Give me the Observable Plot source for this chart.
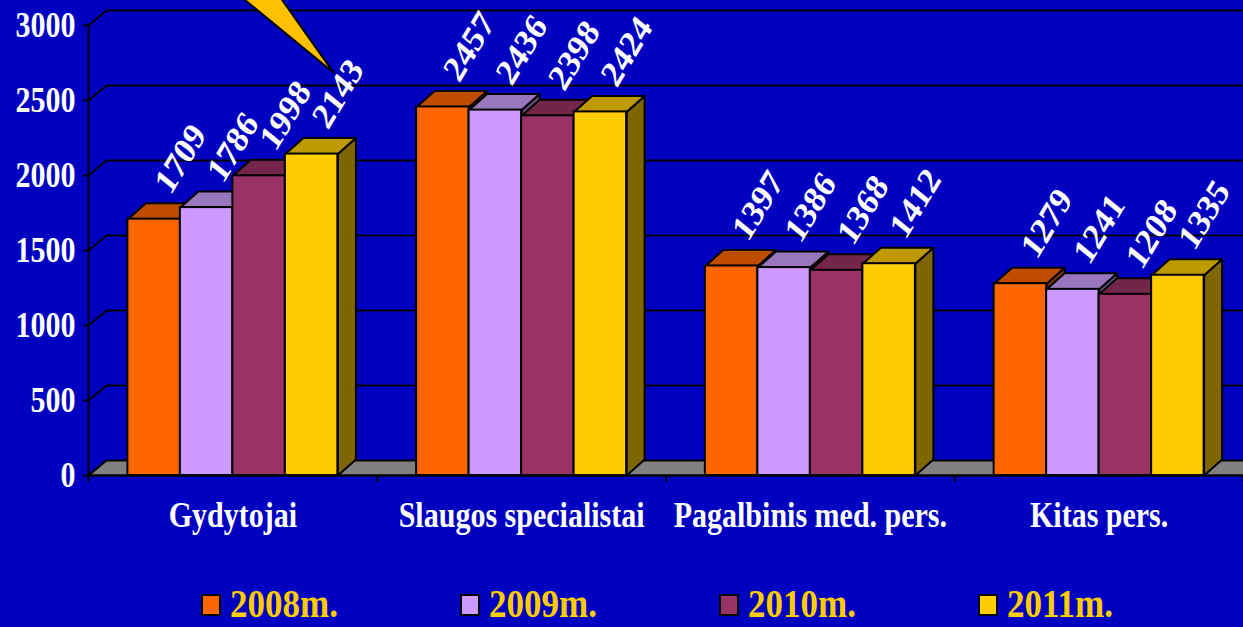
<!DOCTYPE html>
<html>
<head>
<meta charset="utf-8">
<script src="https://cdn.jsdelivr.net/npm/d3@7"></script>
<script src="https://cdn.jsdelivr.net/npm/@observablehq/plot@0.6"></script>
<style>
  html, body { margin:0; padding:0; background:#0000C0; overflow:hidden; width:1243px; height:627px; }
  #chart svg { display:block; overflow:hidden; }
  #legend { position:relative; width:1243px; height:47px; font-family:'Liberation Serif','Times New Roman',serif; }
  .item { position:absolute; top:6px; height:37px; display:flex; align-items:center; }
  .sw { width:16px; height:18px; border:2px solid #000; box-sizing:content-box; margin-right:9px; }
  .lt { color:#FFCC00; font-weight:bold; font-size:35px; line-height:30px; display:inline-block; transform:scaleY(1.12); transform-origin:50% 50%; }
</style>
</head>
<body>
<div id="chart"></div>
<div id="legend"></div>
<script>
// ---- data ----
const categories = ["Gydytojai", "Slaugos specialistai", "Pagalbinis med. pers.", "Kitas pers."];
const years = ["2008m.", "2009m.", "2010m.", "2011m."];
const v2008 = [1709, 2457, 1397, 1279];
const v2009 = [1786, 2436, 1386, 1241];
const v2010 = [1998, 2398, 1368, 1208];
const v2011 = [2143, 2424, 1412, 1335];
const yTicks = [0, 500, 1000, 1500, 2000, 2500, 3000];
const frontColors = ["#FF6600", "#CC99FF", "#993366", "#FFCC00"];
const topColors   = ["#C04C00", "#9977BF", "#732649", "#BF9900"];
const sideColors  = ["#803300", "#664C80", "#4C1A33", "#806600"];
// callout pointer (annotation, in data units)
const calloutPointer = [{x:0.5229, y:3200}, {x:0.6597, y:3200}, {x:0.848, y:2687}];

// ---- geometry helpers ----
const W = 1243, H = 580;
const mL = 88, mR = 0, mT = 25, mB = 105;
const pxPerCat = (W - mL - mR) / 4;
const pxPerVal = (H - mT - mB) / 3000;
const dXw = 18 / pxPerCat, dVw = 15 / pxPerVal;   // wall depth
const dXb = 18 / pxPerCat, dVb = 16 / pxPerVal;   // bar depth
const barW = 52.5 / pxPerCat;
const gap = (1 - 4 * barW) / 2;

const series = [v2008, v2009, v2010, v2011];
const bars = [];
categories.forEach((c, i) => {
  series.forEach((s, j) => {
    const x1 = i + gap + j * barW;
    bars.push({cat: c, year: years[j], j, value: s[i], x1, x2: x1 + barW, id: c + "|" + j});
  });
});
const tops = bars.flatMap(b => [
  {id:b.id, j:b.j, x:b.x1, y:b.value},
  {id:b.id, j:b.j, x:b.x2, y:b.value},
  {id:b.id, j:b.j, x:b.x2 + dXb, y:b.value + dVb},
  {id:b.id, j:b.j, x:b.x1 + dXb, y:b.value + dVb}
]);
const sides = bars.flatMap(b => [
  {id:b.id, j:b.j, x:b.x2, y:0},
  {id:b.id, j:b.j, x:b.x2, y:b.value},
  {id:b.id, j:b.j, x:b.x2 + dXb, y:b.value + dVb},
  {id:b.id, j:b.j, x:b.x2 + dXb, y:dVb}
]);
const floorPts = [{x:0,y:0},{x:4.3,y:0},{x:4.3 + dXw,y:dVw},{x:dXw,y:dVw}];

const font = "'Liberation Serif','Times New Roman',serif";
const polyMarks = (pts, colors) => years.map((_, j) =>
  Plot.line(pts.filter(p => p.j === j), {x:"x", y:"y", z:"id", curve:"linear-closed",
    fill: colors[j], stroke:"black", strokeWidth:2, strokeLinejoin:"round"}));

const chart = Plot.plot({
  width: W, height: H,
  marginLeft: mL, marginRight: mR, marginTop: mT, marginBottom: mB,
  x: {domain: [0, 4], axis: null},
  y: {domain: [0, 3000], axis: null},
  style: {background: "transparent", color: "white", fontFamily: font},
  marks: [
    Plot.link(yTicks, {x1: 0, y1: d => d, x2: dXw, y2: d => d + dVw, stroke: "black", strokeWidth: 2}),
    Plot.ruleY(yTicks.filter(d => d > 0), {y: d => d + dVw, x1: dXw, x2: 4.3, stroke: "black", strokeWidth: 2}),
    Plot.line(floorPts, {x:"x", y:"y", curve:"linear-closed", fill:"#808080", stroke:"black", strokeWidth:2}),
    Plot.ruleX([0], {y1: 0, y2: 3000, stroke: "black", strokeWidth: 2}),
    Plot.axisY({ticks: yTicks, tickSize: 5, tickPadding: 8, stroke: "black", strokeWidth: 2,
      fill: "white", fontSize: 30, fontWeight: "bold", tickFormat: d => String(d), label: null,
      className: "stretch"}),
    ...polyMarks(sides, sideColors),
    ...polyMarks(tops, topColors),
    ...years.map((_, j) => Plot.rect(bars.filter(b => b.j === j), {x1:"x1", x2:"x2", y1:0, y2:"value",
      fill: frontColors[j], stroke:"black", strokeWidth:2})),
    Plot.ruleY([0], {x1: 0, x2: 4.3, stroke: "black", strokeWidth: 2}),
    Plot.axisX({ticks: [0, 1, 2, 3, 4], tickSize: 7, stroke: "black", strokeWidth: 2, tickFormat: () => "", label: null}),
    Plot.text(categories, {x: (d, i) => i + 0.5, y: 0, dy: 40, text: d => d, fill: "white",
      fontSize: 30, fontWeight: "bold", className: "stretch"}),
    Plot.text(bars, {x: b => (b.x1 + b.x2) / 2 + dXb / 2, y: b => b.value + dVb, text: b => String(b.value),
      rotate: -55, textAnchor: "start", dx: -1, dy: -14, fill: "white", fontSize: 32, fontWeight: "bold",
      className: "vlabel"}),
    Plot.line(calloutPointer, {x:"x", y:"y", curve:"linear-closed", fill:"#FFC000", stroke:"black", strokeWidth:2})
  ]
});
document.getElementById("chart").appendChild(chart);

// the reference's serif text is vertically stretched
const k = 1.16;
chart.querySelectorAll("g.stretch text").forEach(t => {
  const len = t.getComputedTextLength();
  const fs = parseFloat(getComputedStyle(t).fontSize);
  t.style.fontSize = (fs * k) + "px";
  t.setAttribute("textLength", len);
  t.setAttribute("lengthAdjust", "spacingAndGlyphs");
});
chart.querySelectorAll("g.vlabel text").forEach(t => {
  const tr = t.getAttribute("transform") || "";
  if (tr.includes("rotate(")) t.setAttribute("transform", tr.replace("rotate(", `scale(1,${k}) rotate(`));
});

// legend
const legend = document.getElementById("legend");
const legendX = [201, 460, 719, 978];
years.forEach((y, j) => {
  const it = document.createElement("div");
  it.className = "item";
  it.style.left = legendX[j] + "px";
  const sw = document.createElement("div");
  sw.className = "sw"; sw.style.background = frontColors[j];
  const t = document.createElement("span");
  t.className = "lt"; t.textContent = y;
  it.appendChild(sw); it.appendChild(t);
  legend.appendChild(it);
});
</script>
</body>
</html>
